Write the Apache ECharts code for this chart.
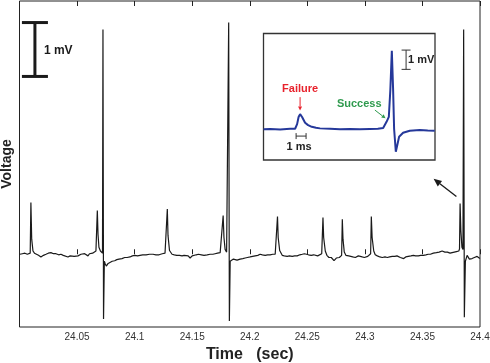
<!DOCTYPE html>
<html>
<head>
<meta charset="utf-8">
<script src="https://cdn.jsdelivr.net/npm/echarts@6/dist/echarts.min.js"></script>
<style>
  html, body { margin: 0; padding: 0; background: #fff; }
  #chart { width: 490px; height: 363px; }
</style>
</head>
<body>
<div id="chart"></div>
<script>
// main recording: time (sec) and voltage (mV, relative to baseline)
const traceT = [
  24.0003, 24.0025, 24.0047, 24.0068, 24.0082, 24.0093, 24.0099, 24.0106, 24.0117, 24.0130,
  24.0143, 24.0165, 24.0186, 24.0208, 24.0230, 24.0250, 24.0273, 24.0295, 24.0317, 24.0340,
  24.0360, 24.0380, 24.0395, 24.0421, 24.0440, 24.0456, 24.0475, 24.0490, 24.0508, 24.0520,
  24.0534, 24.0550, 24.0566, 24.0580, 24.0595, 24.0608, 24.0621, 24.0635, 24.0647, 24.0664,
  24.0676, 24.0682, 24.0690, 24.0703, 24.0712, 24.0721, 24.0725, 24.0730, 24.0737, 24.0745,
  24.0754, 24.0770, 24.0786, 24.0805, 24.0827, 24.0845, 24.0864, 24.0890, 24.0914, 24.0935,
  24.0960, 24.0980, 24.1001, 24.1025, 24.1047, 24.1070, 24.1099, 24.1130, 24.1160, 24.1185,
  24.1212, 24.1240, 24.1264, 24.1278, 24.1284, 24.1290, 24.1303, 24.1325, 24.1345, 24.1366,
  24.1390, 24.1412, 24.1430, 24.1447, 24.1465, 24.1482, 24.1500, 24.1517, 24.1535, 24.1554,
  24.1580, 24.1603, 24.1630, 24.1656, 24.1680, 24.1699, 24.1720, 24.1743, 24.1760, 24.1769,
  24.1776, 24.1786, 24.1799, 24.1808, 24.1814, 24.1817, 24.1823, 24.1830, 24.1845, 24.1858,
  24.1875, 24.1890, 24.1905, 24.1916, 24.1940, 24.1960, 24.1980, 24.2003, 24.2025, 24.2047,
  24.2070, 24.2090, 24.2110, 24.2134, 24.2155, 24.2177, 24.2200, 24.2221, 24.2234, 24.2241,
  24.2247, 24.2260, 24.2282, 24.2300, 24.2325, 24.2345, 24.2369, 24.2390, 24.2412, 24.2435,
  24.2456, 24.2475, 24.2490, 24.2510, 24.2534, 24.2555, 24.2571, 24.2590, 24.2603, 24.2625,
  24.2636, 24.2642, 24.2656, 24.2670, 24.2688, 24.2708, 24.2720, 24.2732, 24.2752, 24.2765,
  24.2778, 24.2798, 24.2804, 24.2810, 24.2821, 24.2835, 24.2847, 24.2860, 24.2876, 24.2895,
  24.2917, 24.2930, 24.2943, 24.2960, 24.2977, 24.2995, 24.3012, 24.3025, 24.3036, 24.3050,
  24.3056, 24.3063, 24.3077, 24.3090, 24.3108, 24.3130, 24.3151, 24.3175, 24.3195, 24.3215,
  24.3238, 24.3260, 24.3279, 24.3295, 24.3308, 24.3320, 24.3337, 24.3355, 24.3377, 24.3400,
  24.3421, 24.3440, 24.3464, 24.3485, 24.3508, 24.3530, 24.3550, 24.3569, 24.3595, 24.3621,
  24.3645, 24.3671, 24.3695, 24.3717, 24.3740, 24.3758, 24.3775, 24.3795, 24.3816, 24.3822,
  24.3827, 24.3834, 24.3843, 24.3852, 24.3858, 24.3864, 24.3873, 24.3888, 24.3908, 24.3931,
  24.3951, 24.3975, 24.3999
];
const traceV = [
  0, 0.01, 0.02, 0.00, 0.01, 0.02, 0.96, 0.28, 0.06, 0.02,
  0, -0.02, -0.05, -0.02, 0, 0.02, 0.03, 0.01, 0.01, -0.01,
  0, -0.02, -0.03, -0.05, -0.03, -0.02, -0.04, -0.02, -0.03, -0.01,
  0, -0.02, 0.01, -0.01, -0.03, 0.01, -0.01, 0.02, 0.04, 0.06,
  0.81, 0.37, 0.13, 0.06, 0.04, 0.02, 4.17, -1.20, -0.13, -0.18,
  -0.22, -0.17, -0.15, -0.13, -0.12, -0.10, -0.09, -0.08, -0.06, -0.06,
  -0.05, -0.03, -0.02, -0.03, -0.02, -0.01, -0.01, 0.00, 0, -0.01,
  -0.01, 0.01, 0.02, 0.03, 0.84, 0.35, 0.07, 0, -0.01, -0.02,
  -0.02, -0.03, -0.02, -0.04, -0.03, -0.07, -0.03, -0.02, -0.01, 0,
  -0.01, -0.02, -0.01, 0, 0, 0.01, 0.02, 0.03, 0.05, 0.72,
  0.31, 0.09, 0.04, 0.03, 0.02, 4.30, -1.24, -0.13, -0.10, -0.09,
  -0.10, -0.11, -0.09, -0.09, -0.08, -0.07, -0.06, -0.05, -0.04, -0.03,
  -0.02, 0, -0.01, -0.02, -0.01, -0.01, 0, 0, 0.02, 0.70,
  0.31, 0.07, -0.02, -0.03, -0.04, -0.03, -0.04, -0.03, -0.03, -0.01,
  0, 0.01, 0.01, -0.01, -0.02, -0.01, -0.02, -0.03, -0.04, 0.01,
  0.68, 0.31, 0.06, -0.02, -0.06, -0.06, -0.08, -0.12, -0.07, -0.06,
  -0.06, -0.02, 0.65, 0.28, 0.04, -0.02, -0.04, -0.03, -0.04, -0.05,
  -0.06, -0.04, -0.03, -0.04, -0.05, -0.06, -0.07, -0.04, -0.02, 0.01,
  0.70, 0.31, 0.06, -0.01, -0.03, -0.05, -0.06, -0.05, -0.06, -0.05,
  -0.04, -0.04, -0.03, -0.05, -0.06, -0.07, -0.08, -0.05, -0.04, -0.03,
  -0.02, -0.03, -0.03, -0.02, -0.02, -0.01, 0, 0, 0.02, 0.03,
  0.04, 0.06, 0.04, 0.04, 0.02, 0.03, 0.04, 0.05, 0.06, 0.10,
  0.94, 0.43, 0.13, 0.09, 4.17, -1.17, -0.13, -0.02, -0.09, -0.08,
  -0.06, -0.04, -0.08
];

// inset: time (ms) and voltage (mV) around one failure and one success
const insetT = [
  0, 0.67, 1.67, 2.67, 3.17, 3.37, 3.52, 3.67, 3.87, 4.17, 4.47, 4.84, 5.27, 5.67,
  6.67, 7.67, 8.67, 9.67, 10.67, 11.47, 12.0, 12.34, 12.57, 12.72, 12.87, 13.0,
  13.1, 13.27, 13.42, 13.6, 14.0, 14.67, 15.67, 16.47, 17.17
];
const insetV = [
  0, 0.02, -0.01, 0.03, 0.03, 0.27, 0.64, 0.79, 0.64, 0.34, 0.22, 0.13, 0.08, 0.05,
  0.03, 0.01, 0.02, 0, 0.02, 0.03, 0.07, 0.39, 0.65, 2.04, 4.07, 2.04,
  0.02, -1.16, -0.81, -0.38, -0.18, -0.07, -0.04, -0.06, -0.07
];

const xTicks = [24.0, 24.4, 0.05]; // min, max, step
const FONT = '"Liberation Sans", Arial, Helvetica, sans-serif';

const chart = echarts.init(document.getElementById('chart'));

chart.setOption({
  animation: false,
  backgroundColor: '#fff',
  grid: [
    { left: 19.5, right: 10, top: 1, bottom: 36, outerBoundsMode: 'none', containLabel: false,
      show: true, borderColor: '#222', borderWidth: 1, backgroundColor: 'transparent' },
    { left: 263.5, top: 33.5, width: 171.5, height: 126.5, outerBoundsMode: 'none', containLabel: false,
      show: true, borderColor: '#333', borderWidth: 1.3, backgroundColor: '#fff', z: 5 }
  ],
  xAxis: [
    {
      type: 'value', gridIndex: 0, min: xTicks[0], max: xTicks[1], interval: xTicks[2],
      name: 'Time   (sec)', nameLocation: 'middle', nameGap: 17,
      nameTextStyle: { fontFamily: FONT, fontWeight: 'bold', fontSize: 16, color: '#222' },
      axisLine: { show: false },
      axisTick: { show: true, inside: true, length: 5, lineStyle: { color: '#222', width: 1 } },
      axisLabel: {
        margin: 5, fontFamily: FONT, fontSize: 10, color: '#333',
        formatter: v => (Math.abs(v - xTicks[0]) < 1e-9 ? '' : String(parseFloat(v.toFixed(2))))
      },
      splitLine: { show: false }
    },
    {
      type: 'value', gridIndex: 0, position: 'top', min: xTicks[0], max: xTicks[1], interval: xTicks[2],
      axisLine: { show: false },
      axisTick: { show: true, inside: true, length: 5, lineStyle: { color: '#222', width: 1 } },
      axisLabel: { show: false },
      splitLine: { show: false }
    },
    {
      type: 'value', gridIndex: 1, min: 0, max: 17.2,
      show: false, splitLine: { show: false }
    }
  ],
  yAxis: [
    {
      type: 'value', gridIndex: 0, min: -1.35, max: 4.70,
      name: 'Voltage', nameLocation: 'middle', nameGap: 5, nameRotate: 90,
      nameTextStyle: { fontFamily: FONT, fontWeight: 'bold', fontSize: 14, color: '#222' },
      axisLine: { show: false }, axisTick: { show: false }, axisLabel: { show: false },
      splitLine: { show: false }
    },
    {
      type: 'value', gridIndex: 1, min: -1.59, max: 4.97,
      show: false, splitLine: { show: false }
    }
  ],
  series: [
    {
      type: 'line', xAxisIndex: 0, yAxisIndex: 0,
      data: traceT.map((t, i) => [t, traceV[i]]),
      showSymbol: false, symbol: 'none',
      lineStyle: { color: '#1a1a1a', width: 1.2 },
      z: 2
    },
    {
      type: 'line', xAxisIndex: 2, yAxisIndex: 1,
      data: insetT.map((t, i) => [t, insetV[i]]),
      showSymbol: false, symbol: 'none',
      lineStyle: { color: '#25389a', width: 2 },
      z: 10
    }
  ]
});

// annotation helpers (anchored in data coordinates)
const P = (si, x, y) => chart.convertToPixel({ seriesIndex: si }, [x, y]);

function arrow(a, b, color, width, headLen, headHalf, z) {
  const dx = b[0] - a[0], dy = b[1] - a[1];
  const len = Math.hypot(dx, dy);
  const ux = dx / len, uy = dy / len;
  const bx = b[0] - ux * headLen, by = b[1] - uy * headLen;
  return [
    { type: 'line', z: z, shape: { x1: a[0], y1: a[1], x2: bx, y2: by }, style: { stroke: color, lineWidth: width } },
    { type: 'polygon', z: z, shape: { points: [b, [bx - uy * headHalf, by + ux * headHalf], [bx + uy * headHalf, by - ux * headHalf]] }, style: { fill: color } }
  ];
}

function vBar(x, y1, y2, cap, color, width, z) {
  return [
    { type: 'line', z: z, shape: { x1: x, y1: y1, x2: x, y2: y2 }, style: { stroke: color, lineWidth: width } },
    { type: 'line', z: z, shape: { x1: x - cap, y1: y1, x2: x + cap, y2: y1 }, style: { stroke: color, lineWidth: width } },
    { type: 'line', z: z, shape: { x1: x - cap, y1: y2, x2: x + cap, y2: y2 }, style: { stroke: color, lineWidth: width } }
  ];
}

function label(p, text, color, size, align, z) {
  return {
    type: 'text', z: z, x: p[0], y: p[1],
    style: { text: text, fill: color, font: 'bold ' + size + 'px ' + FONT, align: align, verticalAlign: 'middle' }
  };
}

const els = [];

// main 1 mV scale bar
const mTop = P(0, 24.0134, 4.30), mBot = P(0, 24.0134, 3.30);
const mCapL = P(0, 24.0021, 4.30);
els.push(...vBar(mTop[0], mTop[1], mBot[1], mTop[0] - mCapL[0], '#1a1a1a', 3, 20));
els.push(label(P(0, 24.0212, 3.78), '1 mV', '#1a1a1a', 12, 'left', 20));

// main arrow pointing at the inset
els.push(...arrow(P(0, 24.3795, 1.07), P(0, 24.3597, 1.40), '#1a1a1a', 1.3, 8, 3.5, 20));

// inset annotations
els.push(label(P(1, 3.67, 2.07), 'Failure', '#e8222c', 11, 'center', 30));
els.push(...arrow(P(1, 3.67, 1.67), P(1, 3.67, 0.98), '#e8222c', 1, 4, 2, 30));
els.push(label(P(1, 9.6, 1.30), 'Success', '#2f9a4e', 11, 'center', 30));
els.push(...arrow(P(1, 11.17, 1.0), P(1, 12.24, 0.57), '#2f9a4e', 1, 4, 2, 30));

// inset 1 ms bar
const msL = P(1, 3.27, -0.35), msR = P(1, 4.27, -0.35);
els.push(
  { type: 'line', z: 30, shape: { x1: msL[0], y1: msL[1], x2: msR[0], y2: msR[1] }, style: { stroke: '#333', lineWidth: 1 } },
  { type: 'line', z: 30, shape: { x1: msL[0], y1: msL[1] - 3, x2: msL[0], y2: msL[1] + 3 }, style: { stroke: '#333', lineWidth: 1 } },
  { type: 'line', z: 30, shape: { x1: msR[0], y1: msR[1] - 3, x2: msR[0], y2: msR[1] + 3 }, style: { stroke: '#333', lineWidth: 1 } }
);
els.push(label(P(1, 3.57, -0.90), '1 ms', '#222', 11, 'center', 30));

// inset 1 mV bar
const ivT = P(1, 14.3, 4.11), ivB = P(1, 14.3, 3.11);
els.push(...vBar(ivT[0], ivT[1], ivB[1], 4.5, '#333', 1, 30));
els.push(label(P(1, 14.5, 3.59), '1 mV', '#222', 11, 'left', 30));

chart.setOption({ graphic: els });
</script>
</body>
</html>
